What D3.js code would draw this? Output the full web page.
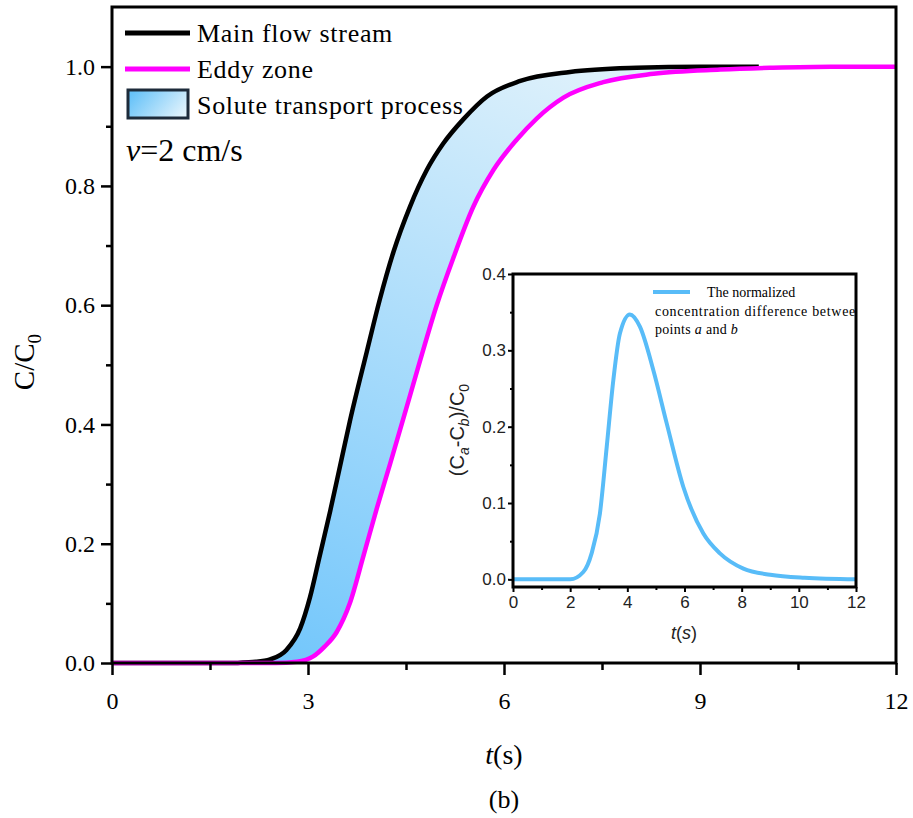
<!DOCTYPE html>
<html><head><meta charset="utf-8">
<script src="https://cdn.jsdelivr.net/npm/d3@7"></script>
<style>body{margin:0;background:#fff}svg{display:block}</style>
</head><body>
<svg id="c" width="913" height="818"></svg>
<script>
// ---- data ----
const mainT = [0, 1.9, 2.0, 2.2, 2.42, 2.67, 2.88, 3.03, 3.18, 3.34, 3.49, 3.64, 3.9, 4.1, 4.31, 4.56, 4.82, 5.07, 5.38, 5.74, 6.25, 7.01, 8.03, 9.0, 9.9];
const mainC = [0, 0, 0.001, 0.002, 0.006, 0.022, 0.058, 0.110, 0.180, 0.255, 0.330, 0.405, 0.522, 0.610, 0.690, 0.765, 0.827, 0.871, 0.912, 0.950, 0.976, 0.991, 0.998, 1.0, 1.0];
const eddyT = [0, 2.5, 2.83, 3.08, 3.25, 3.44, 3.64, 3.85, 4.05, 4.26, 4.46, 4.71, 4.97, 5.22, 5.53, 5.84, 6.19, 6.5, 6.91, 7.52, 8.29, 9.31, 10.07, 11, 12];
const eddyC = [0, 0, 0.002, 0.011, 0.027, 0.052, 0.100, 0.180, 0.258, 0.335, 0.410, 0.505, 0.600, 0.678, 0.765, 0.827, 0.877, 0.913, 0.948, 0.974, 0.988, 0.995, 0.998, 1.0, 1.0];
const diffT = [0, 2.0, 2.46, 2.75, 3.04, 3.28, 3.51, 3.74, 4.09, 4.44, 4.91, 5.38, 5.96, 6.66, 7.24, 8.06, 9.0, 10.2, 12];
const diffV = [0, 0, 0.0096, 0.034, 0.086, 0.174, 0.261, 0.322, 0.347, 0.331, 0.274, 0.204, 0.121, 0.060, 0.034, 0.014, 0.006, 0.002, 0];
const xTicks = [0, 3, 6, 9, 12];
const xMinor = [1.5, 4.5, 7.5, 10.5];
const yTicks = [0, 0.2, 0.4, 0.6, 0.8, 1.0];
const yMinor = [0.1, 0.3, 0.5, 0.7, 0.9];
const ixTicks = [0, 2, 4, 6, 8, 10, 12];
const ixMinor = [1, 3, 5, 7, 9, 11];
const iyTicks = [0, 0.1, 0.2, 0.3, 0.4];
const iyMinor = [0.05, 0.15, 0.25, 0.35];
const legendLabels = ["Main flow stream", "Eddy zone", "Solute transport process"];

const svg = d3.select("#c");
const serif = "'Liberation Serif','Times New Roman',serif";
const sans = "'Liberation Sans',Arial,sans-serif";

// gradients
const defs = svg.append("defs");
const g1 = defs.append("linearGradient").attr("id","fillG").attr("gradientUnits","userSpaceOnUse")
  .attr("x1",300).attr("y1",663).attr("x2",560).attr("y2",70);
g1.append("stop").attr("offset",0).attr("stop-color","#74c7fb");
g1.append("stop").attr("offset",1).attr("stop-color","#dcf0fb");
const g2 = defs.append("linearGradient").attr("id","legG").attr("x1",0).attr("y1",0.3).attr("x2",1).attr("y2",0.7);
g2.append("stop").attr("offset",0).attr("stop-color","#66c2f8");
g2.append("stop").attr("offset",1).attr("stop-color","#e2f3fc");

// main scales
const x = d3.scaleLinear().domain([0,12]).range([112,896]);
const y = d3.scaleLinear().domain([0,1.1]).range([663,7]);

const mainPts = mainT.map((t,i)=>[t,mainC[i]]);
const eddyPts = eddyT.map((t,i)=>[t,eddyC[i]]);
const line = d3.line().x(d=>x(d[0])).y(d=>y(d[1])).curve(d3.curveMonotoneX);

// fill between curves
const upper = mainPts.filter(d=>d[0]>=1.9);
const lower = eddyPts.filter(d=>d[0]<=9.9).concat([[9.9,0.9995]]).reverse();
const p1 = line(upper);
const p2 = line(lower).replace(/^M/,"L");
svg.append("path").attr("d", p1 + p2 + "Z").attr("fill","url(#fillG)");

svg.append("path").attr("d", line(mainPts)).attr("fill","none").attr("stroke","#000").attr("stroke-width",4.5);
svg.append("path").attr("d", line(eddyPts)).attr("fill","none").attr("stroke","#ff00ff").attr("stroke-width",4.5);

// axes
function styleAxis(g, font, size){
  g.select(".domain").remove();
  g.selectAll("line").attr("stroke","#000").attr("stroke-width",2.5);
  g.selectAll("text").attr("font-family",font).attr("font-size",size).attr("fill","#000");
}
const xa = svg.append("g").attr("transform","translate(0,663)")
  .call(d3.axisBottom(x).tickValues(xTicks).tickSize(12).tickPadding(17).tickFormat(d3.format("d")));
styleAxis(xa, serif, 24);
const xm = svg.append("g").attr("transform","translate(0,663)")
  .call(d3.axisBottom(x).tickValues(xMinor).tickSize(7).tickFormat(""));
styleAxis(xm, serif, 24);
const ya = svg.append("g").attr("transform","translate(112,0)")
  .call(d3.axisLeft(y).tickValues(yTicks).tickSize(11).tickPadding(6).tickFormat(d3.format(".1f")));
styleAxis(ya, serif, 24);
const ym = svg.append("g").attr("transform","translate(112,0)")
  .call(d3.axisLeft(y).tickValues(yMinor).tickSize(6).tickFormat(""));
styleAxis(ym, serif, 24);
// frame
svg.append("rect").attr("x",x(0)).attr("y",y(1.1)).attr("width",x(12)-x(0)).attr("height",y(0)-y(1.1))
  .attr("fill","none").attr("stroke","#000").attr("stroke-width",3);

// axis titles
const xt = svg.append("text").attr("x",504).attr("y",764).attr("text-anchor","middle")
  .attr("font-family",serif).attr("font-size",28);
xt.append("tspan").attr("font-style","italic").text("t");
xt.append("tspan").text("(s)");
svg.append("text").attr("x",504).attr("y",808).attr("text-anchor","middle")
  .attr("font-family",serif).attr("font-size",26).text("(b)");
const yt = svg.append("text").attr("transform","translate(34,362) rotate(-90)").attr("text-anchor","middle")
  .attr("font-family",serif).attr("font-size",29);
yt.append("tspan").text("C/C");
yt.append("tspan").attr("font-size",19).attr("dy",7).text("0");

// legend
const lg = svg.append("g").attr("font-family",serif).attr("font-size",26).attr("letter-spacing",0.7);
lg.append("line").attr("x1",125).attr("x2",190).attr("y1",33).attr("y2",33).attr("stroke","#000").attr("stroke-width",5);
lg.append("line").attr("x1",125).attr("x2",190).attr("y1",69).attr("y2",69).attr("stroke","#ff00ff").attr("stroke-width",5);
lg.append("rect").attr("x",128).attr("y",90).attr("width",60).attr("height",28).attr("fill","url(#legG)")
  .attr("stroke","#1d2b3a").attr("stroke-width",3);
legendLabels.forEach((s,i)=>{
  lg.append("text").attr("x",197).attr("y",[33,69,105][i]).attr("dy","0.35em").text(s);
});
const vt = svg.append("text").attr("x",126).attr("y",161).attr("font-family",serif).attr("font-size",32);
vt.append("tspan").attr("font-style","italic").text("v");
vt.append("tspan").text("=2 cm/s");

// ---- inset ----
const ix = d3.scaleLinear().domain([0,12]).range([513,856]);
const iy = d3.scaleLinear().domain([-0.01,0.4]).range([587,274]);
svg.append("rect").attr("x",513).attr("y",274).attr("width",343).attr("height",313).attr("fill","#fff");
defs.append("clipPath").attr("id","ic").append("rect").attr("x",513).attr("y",274).attr("width",343).attr("height",313);
const ig = svg.append("g").attr("clip-path","url(#ic)");
const iline = d3.line().x(d=>ix(d[0])).y(d=>iy(d[1])).curve(d3.curveMonotoneX);
ig.append("path").attr("d", iline(diffT.map((t,i)=>[t,diffV[i]]))).attr("fill","none")
  .attr("stroke","#58bcf8").attr("stroke-width",4);
// inset legend
ig.append("line").attr("x1",653).attr("x2",690).attr("y1",292).attr("y2",292).attr("stroke","#58bcf8").attr("stroke-width",4);
const il = ig.append("g").attr("font-family",serif).attr("font-size",14).attr("fill","#000");
il.append("text").attr("x",707).attr("y",297).text("The normalized");
il.append("text").attr("x",655).attr("y",316).attr("letter-spacing",0.7).text("concentration difference between");
const l3 = il.append("text").attr("x",655).attr("y",334).attr("letter-spacing",0.3);
l3.append("tspan").text("points ");
l3.append("tspan").attr("font-style","italic").text("a");
l3.append("tspan").text(" and ");
l3.append("tspan").attr("font-style","italic").text("b");

function styleInset(g){
  g.select(".domain").remove();
  g.selectAll("line").attr("stroke","#000").attr("stroke-width",2);
  g.selectAll("text").attr("font-family",sans).attr("font-size",17).attr("fill","#222");
}
const ixa = svg.append("g").attr("transform","translate(0,587)")
  .call(d3.axisBottom(ix).tickValues(ixTicks).tickSize(5).tickPadding(4).tickFormat(d3.format("d")));
styleInset(ixa);
const ixm = svg.append("g").attr("transform","translate(0,587)")
  .call(d3.axisBottom(ix).tickValues(ixMinor).tickSize(3).tickFormat(""));
styleInset(ixm);
const iya = svg.append("g").attr("transform","translate(513,0)")
  .call(d3.axisLeft(iy).tickValues(iyTicks).tickSize(5).tickPadding(2).tickFormat(d3.format(".1f")));
styleInset(iya);
const iym = svg.append("g").attr("transform","translate(513,0)")
  .call(d3.axisLeft(iy).tickValues(iyMinor).tickSize(3).tickFormat(""));
styleInset(iym);
svg.append("rect").attr("x",513).attr("y",274).attr("width",343).attr("height",313)
  .attr("fill","none").attr("stroke","#000").attr("stroke-width",3);

const ixt = svg.append("text").attr("x",684).attr("y",639).attr("text-anchor","middle")
  .attr("font-family",sans).attr("font-size",18).attr("font-style","italic").attr("fill","#222");
ixt.append("tspan").text("t");
ixt.append("tspan").attr("font-style","normal").text("(");
ixt.append("tspan").text("s");
ixt.append("tspan").attr("font-style","normal").text(")");
const iyt = svg.append("text").attr("transform","translate(464,430) rotate(-90)").attr("text-anchor","middle")
  .attr("font-family",sans).attr("font-size",20).attr("fill","#222");
iyt.append("tspan").text("(C");
iyt.append("tspan").attr("font-style","italic").attr("font-size",14).attr("dy",5).text("a");
iyt.append("tspan").attr("dy",-5).text("-C");
iyt.append("tspan").attr("font-style","italic").attr("font-size",14).attr("dy",5).text("b");
iyt.append("tspan").attr("dy",-5).text(")/C");
iyt.append("tspan").attr("font-size",14).attr("dy",5).text("0");
</script>
</body></html>
